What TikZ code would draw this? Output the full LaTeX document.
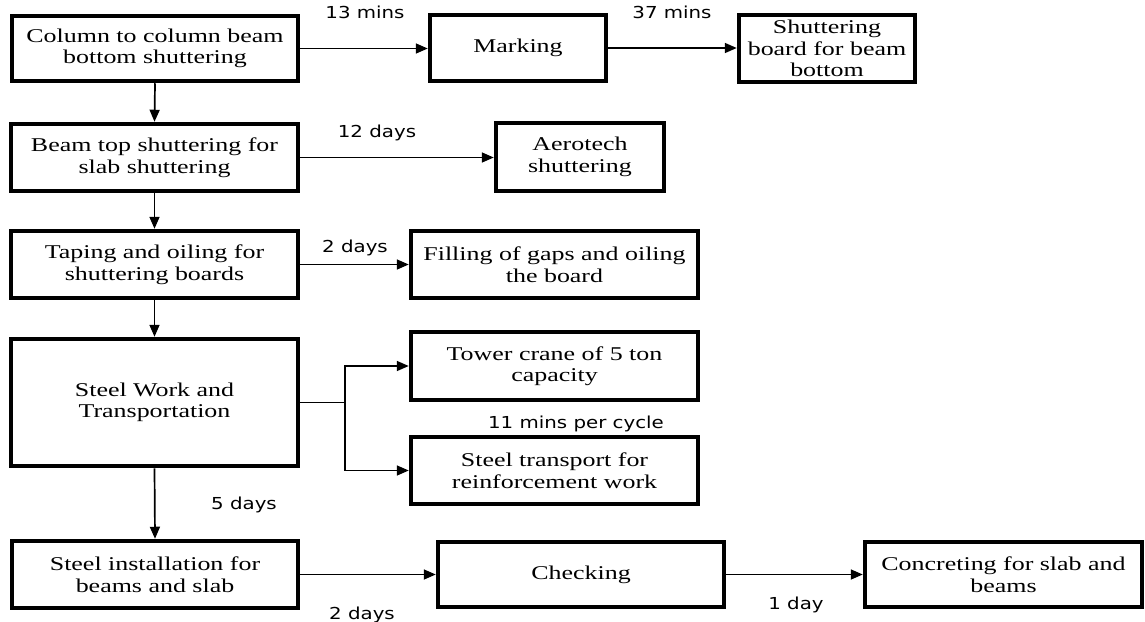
\documentclass[tikz,border=0pt]{standalone}
\usepackage{fontspec}
\setmainfont{Liberation Serif}
\newfontfamily\boxfont[FakeStretch=1.33]{Liberation Serif}
\newfontfamily\lblfont[FakeStretch=1.2]{DejaVu Sans}
\usetikzlibrary{arrows.meta}
\begin{document}
\begin{tikzpicture}[x=1pt,y=-1pt,
  procbox/.style={draw, line width=4.5pt, align=center, inner sep=0pt,
    font=\boxfont\fontsize{19.5}{21.5}\selectfont},
  flow/.style={line width=1.7pt, -{Triangle[length=12pt,width=10pt]}},
  link/.style={line width=1.7pt},
  dur/.style={anchor=base, inner sep=0pt, font=\lblfont\fontsize{16.5}{18}\selectfont}]
\useasboundingbox (0,0) rectangle (1145,621);

% process boxes
\node[procbox, minimum width=286pt, minimum height=65pt] (col) at (155,48.5) {Column to column beam\\bottom shuttering};
\node[procbox, minimum width=176pt, minimum height=66pt] (mark) at (518,48) {Marking};
\node[procbox, minimum width=176pt, minimum height=67pt] (board) at (827,48.5) {Shuttering\\board for beam\\bottom};
\node[procbox, minimum width=287pt, minimum height=67pt] (beamtop) at (154.5,157.5) {Beam top shuttering for\\slab shuttering};
\node[procbox, minimum width=168pt, minimum height=68pt] (aero) at (580,157) {Aerotech\\shuttering};
\node[procbox, minimum width=287pt, minimum height=67pt] (tape) at (154.5,264.5) {Taping and oiling for\\shuttering boards};
\node[procbox, minimum width=287pt, minimum height=67pt] (fill) at (554.5,264.5) {Filling of gaps and oiling\\the board};
\node[procbox, minimum width=287pt, minimum height=127pt] (steel) at (154.5,402.5) {Steel Work and\\Transportation};
\node[procbox, minimum width=287pt, minimum height=68pt] (crane) at (554.5,366) {Tower crane of 5 ton\\capacity};
\node[procbox, minimum width=287pt, minimum height=67pt] (trans) at (554.5,470.5) {Steel transport for\\reinforcement work};
\node[procbox, minimum width=286pt, minimum height=67pt] (inst) at (155,574.5) {Steel installation for\\beams and slab};
\node[procbox, minimum width=286pt, minimum height=65pt] (check) at (581,574.5) {Checking};
\node[procbox, minimum width=277pt, minimum height=65pt] (conc) at (1003.5,574.5) {Concreting for slab and\\beams};

% branch point for the steel work split
\coordinate (split) at (345,402.5);

% connectors
\draw[flow] (col.east) -- (col.east -| mark.west);
\draw[flow] (mark.east) -- (mark.east -| board.west);
\draw[flow] (col.south) -- (beamtop.north);
\draw[flow] (beamtop.east) -- (beamtop.east -| aero.west);
\draw[flow] (beamtop.south) -- (tape.north);
\draw[flow] (tape.east) -- (tape.east -| fill.west);
\draw[flow] (tape.south) -- (steel.north);
\draw[link] (steel.east) -- (split);
\draw[flow] (split) |- (crane.west);
\draw[flow] (split) |- (trans.west);
\draw[flow] (steel.south) -- (inst.north);
\draw[flow] (inst.east) -- (inst.east -| check.west);
\draw[flow] (check.east) -- (check.east -| conc.west);

% durations
\node[dur] (t1) at (365,18) {13 mins};
\node[dur] (t2) at (672,18) {37 mins};
\node[dur] (t3) at (377,137) {12 days};
\node[dur] (t4) at (355,252) {2 days};
\node[dur] (t5) at (576,428) {11 mins per cycle};
\node[dur] (t6) at (244,509) {5 days};
\node[dur] (t7) at (362,619) {2 days};
\node[dur] (t8) at (796,609) {1 day};
\end{tikzpicture}
\end{document}
